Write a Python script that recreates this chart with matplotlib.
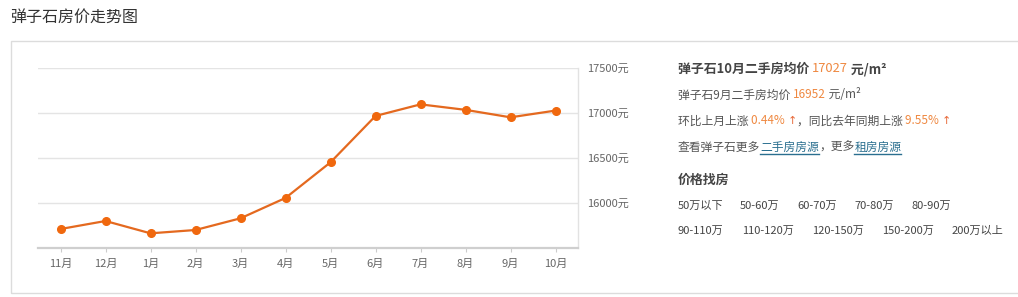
import matplotlib
matplotlib.use("Agg")
import matplotlib.pyplot as plt
from matplotlib.patches import Rectangle
from matplotlib.lines import Line2D
from matplotlib.transforms import IdentityTransform

plt.rcParams['font.family'] = ['Noto Sans CJK SC', 'DejaVu Sans']

# ---------------------------------------------------------------------------
# data
# ---------------------------------------------------------------------------
area = "弹子石"
months = ["11月", "12月", "1月", "2月", "3月", "4月", "5月", "6月", "7月", "8月", "9月", "10月"]
prices = [15711, 15800, 15663, 15700, 15830, 16056, 16452, 16967, 17096, 17035, 16952, 17027]
y_ticks = [16000, 16500, 17000, 17500]

cur_month, cur_price = "10月", 17027
prev_month, prev_price = "9月", 16952
mom_change = "0.44%"
yoy_change = "9.55%"

price_row1 = ["50万以下", "50-60万", "60-70万", "70-80万", "80-90万"]
price_row2 = ["90-110万", "110-120万", "120-150万", "150-200万", "200万以上"]

# ---------------------------------------------------------------------------
# styling
# ---------------------------------------------------------------------------
W, H = 1018, 297
ORANGE_LINE = "#e4691f"
ORANGE_DOT = "#f0680e"
ORANGE_TXT = "#ef8840"
ARROW = "#e86a3a"
TXT = "#555555"
DARK = "#444444"
LINK = "#2a6f8f"

fig = plt.figure(figsize=(W / 100, H / 100), dpi=100)
fig.patch.set_facecolor("white")

# page title + card frame
fig.text(10 / W, 1 - 17 / H, f"{area}房价走势图", fontsize=11.5, color="#333333",
         va="center", ha="left")
fig.add_artist(Rectangle((11 / W, 1 - 293 / H), 1.05, (293 - 41) / H,
                         transform=fig.transFigure, fill=False,
                         edgecolor="#dcdcdc", lw=1.0))

# ---------------------------------------------------------------------------
# line chart
# ---------------------------------------------------------------------------
ax_l, ax_r, ax_t, ax_b = 38, 578, 68, 248
ax = fig.add_axes([ax_l / W, 1 - ax_b / H, (ax_r - ax_l) / W, (ax_b - ax_t) / H])
x = list(range(len(months)))
ax.plot(x, prices, color=ORANGE_LINE, lw=1.6, marker="o", ms=5.5,
        markerfacecolor=ORANGE_DOT, markeredgecolor=ORANGE_DOT, zorder=3)

ax.set_xlim(-0.5, len(months) - 0.5)
ax.set_ylim(15500, 17500)
ax.set_xticks(x)
ax.set_xticklabels(months)
ax.set_yticks(y_ticks)
ax.set_yticklabels([f"{v}元" for v in y_ticks])
ax.yaxis.tick_right()
ax.grid(axis="y", color="#e4e4e4", lw=1.0)
ax.set_axisbelow(True)

for side in ("top", "left"):
    ax.spines[side].set_visible(False)
ax.spines["bottom"].set_color("#cfcfcf")
ax.spines["bottom"].set_linewidth(1.6)
ax.spines["right"].set_color("#e2e2e2")
ax.spines["right"].set_linewidth(1.0)

ax.tick_params(axis="y", length=0, pad=6.5, labelsize=8, labelcolor="#666666")
ax.tick_params(axis="x", length=3, width=0.8, color="#cccccc", pad=5,
               labelsize=8, labelcolor="#666666")

# ---------------------------------------------------------------------------
# info panel on the right
# ---------------------------------------------------------------------------
fig.canvas.draw()
renderer = fig.canvas.get_renderer()
pix = IdentityTransform()


def put_runs(x0, y_top, runs, size=8.5):
    """Write coloured text runs left to right, y measured from the top."""
    xx = x0
    for run in runs:
        text, color = run[0], run[1]
        opts = run[2] if len(run) > 2 else {}
        t = fig.text(xx, H - y_top, text, transform=pix,
                     fontsize=opts.get("size", size), color=color,
                     weight=opts.get("weight", "normal"),
                     family=opts.get("family", ['Noto Sans CJK SC', 'DejaVu Sans']),
                     va="center", ha="left")
        bb = t.get_window_extent(renderer)
        if opts.get("link"):
            fig.add_artist(Line2D([bb.x0, bb.x1], [H - y_top - 7, H - y_top - 7],
                                  transform=pix, color=color, lw=1.0))
        xx = bb.x1


bold = {"weight": "bold", "size": 9.3}
arrow = {"family": ["DejaVu Sans"], "size": 8}
link = {"link": True}

put_runs(678, 69, [(f"{area}{cur_month}二手房均价 ", DARK, bold),
                   (f"{cur_price}", ORANGE_TXT, {"size": 9.3}),
                   (" 元/m²", DARK, bold)])
put_runs(678, 95, [(f"{area}{prev_month}二手房均价 ", TXT),
                   (f"{prev_price}", ORANGE_TXT),
                   (" 元/m²", TXT)])
put_runs(678, 121, [("环比上月上涨 ", TXT),
                    (f"{mom_change} ", ORANGE_TXT),
                    ("↑", ARROW, arrow),
                    ("，同比去年同期上涨 ", TXT),
                    (f"{yoy_change} ", ORANGE_TXT),
                    ("↑", ARROW, arrow)])
put_runs(678, 147, [(f"查看{area}更多", TXT),
                    ("二手房房源", LINK, link),
                    ("，更多", TXT),
                    ("租房房源", LINK, link)])
put_runs(678, 180, [("价格找房", DARK, bold)])

row1_x = [678, 740, 797, 854, 912]
row2_x = [678, 742, 812, 882, 952]
for label, px in zip(price_row1, row1_x):
    fig.text(px, H - 206, label, transform=pix, fontsize=8, color="#444444",
             va="center", ha="left")
for label, px in zip(price_row2, row2_x):
    fig.text(px, H - 231, label, transform=pix, fontsize=8, color="#444444",
             va="center", ha="left")

fig.savefig("out.png", dpi=100)
